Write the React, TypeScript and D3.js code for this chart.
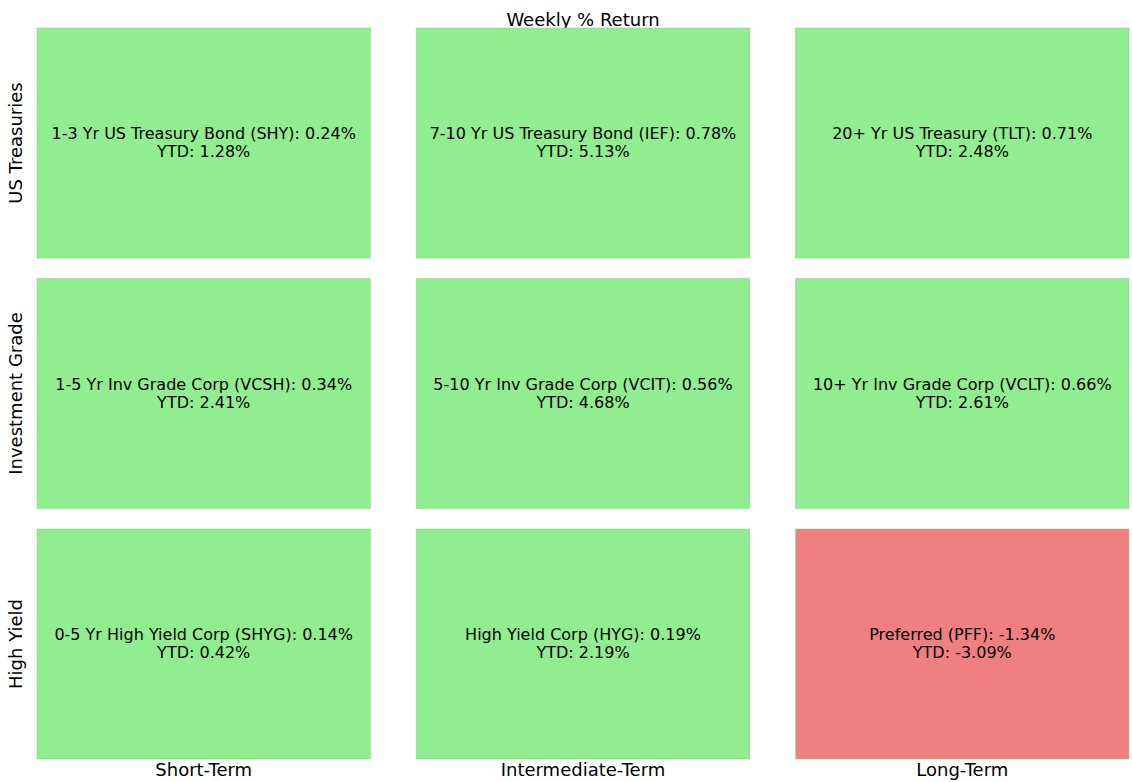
import React from "react";
import * as d3 from "d3";

const rowLabels = ["US Treasuries", "Investment Grade", "High Yield"];
const colLabels = ["Short-Term", "Intermediate-Term", "Long-Term"];
const names = [
  "1-3 Yr US Treasury Bond (SHY)",
  "7-10 Yr US Treasury Bond (IEF)",
  "20+ Yr US Treasury (TLT)",
  "1-5 Yr Inv Grade Corp (VCSH)",
  "5-10 Yr Inv Grade Corp (VCIT)",
  "10+ Yr Inv Grade Corp (VCLT)",
  "0-5 Yr High Yield Corp (SHYG)",
  "High Yield Corp (HYG)",
  "Preferred (PFF)",
];
const weekly = [0.24, 0.78, 0.71, 0.34, 0.56, 0.66, 0.14, 0.19, -1.34];
const ytd = [1.28, 5.13, 2.48, 2.41, 4.68, 2.61, 0.42, 2.19, -3.09];

const W = 1132;
const H = 782;
const FONT = "DejaVu Sans, sans-serif";

export default function App() {
  const x = d3.scaleBand<string>().domain(colLabels).range([37, 1129]).paddingInner(0.121).paddingOuter(0);
  const y = d3.scaleBand<string>().domain(rowLabels).range([28, 759]).paddingInner(0.0818).paddingOuter(0);
  const color = (v: number) => (v >= 0 ? "#90EE90" : "#F08080");
  const fmt = (v: number) => v.toFixed(2) + "%";

  return (
    <svg width={W} height={H} style={{ position: "absolute", left: 0, top: 0, background: "#fff" }} fontFamily={FONT}>
      <text x={(x(colLabels[1])! + x.bandwidth() / 2)} y={26} textAnchor="middle" fontSize={18} fill="#000">
        Weekly % Return
      </text>
      {names.map((n, i) => {
        const r = rowLabels[Math.floor(i / 3)];
        const c = colLabels[i % 3];
        const cx = x(c)! + x.bandwidth() / 2;
        const cy = y(r)! + y.bandwidth() / 2;
        return (
          <g key={n}>
            <rect x={x(c)} y={y(r)} width={x.bandwidth()} height={y.bandwidth()} fill={color(weekly[i])} stroke="#7fcf7f" strokeOpacity={0.5} strokeWidth={1} />
            <text x={cx} y={cy - 4} textAnchor="middle" fontSize={16} fill="#000">
              {`${n}: ${fmt(weekly[i])}`}
            </text>
            <text x={cx} y={cy + 14} textAnchor="middle" fontSize={16} fill="#000">
              {`YTD: ${fmt(ytd[i])}`}
            </text>
          </g>
        );
      })}
      {rowLabels.map((r) => {
        const cy = y(r)! + y.bandwidth() / 2;
        return (
          <text key={r} transform={`translate(22,${cy}) rotate(-90)`} textAnchor="middle" fontSize={18} fill="#000">
            {r}
          </text>
        );
      })}
      {colLabels.map((c) => (
        <text key={c} x={x(c)! + x.bandwidth() / 2} y={776} textAnchor="middle" fontSize={18} fill="#000">
          {c}
        </text>
      ))}
    </svg>
  );
}
